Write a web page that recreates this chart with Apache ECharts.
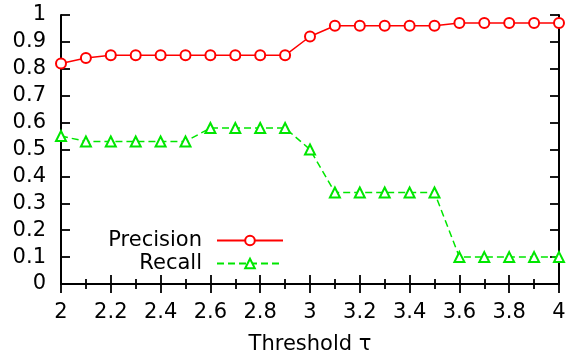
<!DOCTYPE html>
<html><head><meta charset="utf-8">
<script src="https://cdn.jsdelivr.net/npm/echarts@6/dist/echarts.min.js"></script>
<style>html,body{margin:0;padding:0;background:#fff}#c{width:574px;height:356px}</style>
</head><body><div id="c"></div>
<script>
const thresholds = [2.0,2.1,2.2,2.3,2.4,2.5,2.6,2.7,2.8,2.9,3.0,3.1,3.2,3.3,3.4,3.5,3.6,3.7,3.8,3.9,4.0];
const precision = [0.82,0.84,0.85,0.85,0.85,0.85,0.85,0.85,0.85,0.85,0.92,0.96,0.96,0.96,0.96,0.96,0.97,0.97,0.97,0.97,0.97];
const recall = [0.55,0.53,0.53,0.53,0.53,0.53,0.58,0.58,0.58,0.58,0.50,0.34,0.34,0.34,0.34,0.34,0.10,0.10,0.10,0.10,0.10];
const xTitle = 'Threshold τ';

const font = 'DejaVu Sans, sans-serif';
const fs = 21;
const chart = echarts.init(document.getElementById('c'), null, {renderer:'canvas'});
const axisLine = {show:true, lineStyle:{color:'#000', width:2}};
const tickStyle = {color:'#000', width:1.8};
const green = '#00e600';
chart.setOption({
  animation:false,
  backgroundColor:'#fff',
  textStyle:{fontFamily:font},
  grid:{left:61, right:15, top:15, bottom:72, containLabel:false, outerBoundsMode:'none'},
  legend:[
    {data:['Precision'], right:285, top:225, orient:'vertical', align:'right', itemWidth:66, itemHeight:12,
     textStyle:{fontSize:fs, color:'#000', fontFamily:font, padding:[0,10,0,0]}},
    {data:['Recall'], right:285, top:248, orient:'vertical', align:'right', itemWidth:66, itemHeight:12,
     textStyle:{fontSize:fs, color:'#000', fontFamily:font, padding:[0,10,0,0]}}
  ],
  xAxis:[
    {type:'value', min:2, max:4, interval:0.2, position:'bottom',
     axisLine:axisLine, splitLine:{show:false},
     axisTick:{show:true, inside:true, length:9, lineStyle:tickStyle},
     minorTick:{show:true, splitNumber:2, length:5, lineStyle:tickStyle},
     axisLabel:{fontSize:fs, color:'#000', margin:18, fontFamily:font,
       formatter:v=>String(Math.round(v*10)/10)},
     name:xTitle, nameLocation:'middle', nameGap:50,
     nameTextStyle:{fontSize:fs, color:'#000', fontFamily:font}},
    {type:'value', min:2, max:4, interval:0.2, position:'top',
     axisLine:axisLine, splitLine:{show:false},
     axisTick:{show:true, inside:true, length:9, lineStyle:tickStyle},
     minorTick:{show:true, splitNumber:2, length:5, lineStyle:tickStyle},
     axisLabel:{show:false}}
  ],
  yAxis:[
    {type:'value', min:0, max:1, interval:0.1, position:'left',
     axisLine:axisLine, splitLine:{show:false},
     axisTick:{show:true, inside:true, length:9, lineStyle:tickStyle},
     axisLabel:{fontSize:fs, color:'#000', margin:15, fontFamily:font, padding:[7,0,0,0],
       formatter:v=>String(Math.round(v*10)/10)}},
    {type:'value', min:0, max:1, interval:0.1, position:'right',
     axisLine:axisLine, splitLine:{show:false},
     axisTick:{show:true, inside:true, length:9, lineStyle:tickStyle},
     axisLabel:{show:false}}
  ],
  series:[
    {name:'Precision', type:'line', xAxisIndex:0, yAxisIndex:0,
     data:thresholds.map((t,i)=>[t,precision[i]]),
     symbol:'emptyCircle', symbolSize:10, color:'#ff0000',
     lineStyle:{color:'#ff0000', width:1.5},
     itemStyle:{color:'#ff0000', borderColor:'#ff0000', borderWidth:1.5}},
    {name:'Recall', type:'line', xAxisIndex:0, yAxisIndex:0,
     data:thresholds.map((t,i)=>[t,recall[i]]),
     symbol:'emptyTriangle', symbolSize:10, color:green,
     lineStyle:{color:green, width:1.5, type:[7,4]},
     itemStyle:{color:green, borderColor:green, borderWidth:1.5}}
  ]
});
</script></body></html>
